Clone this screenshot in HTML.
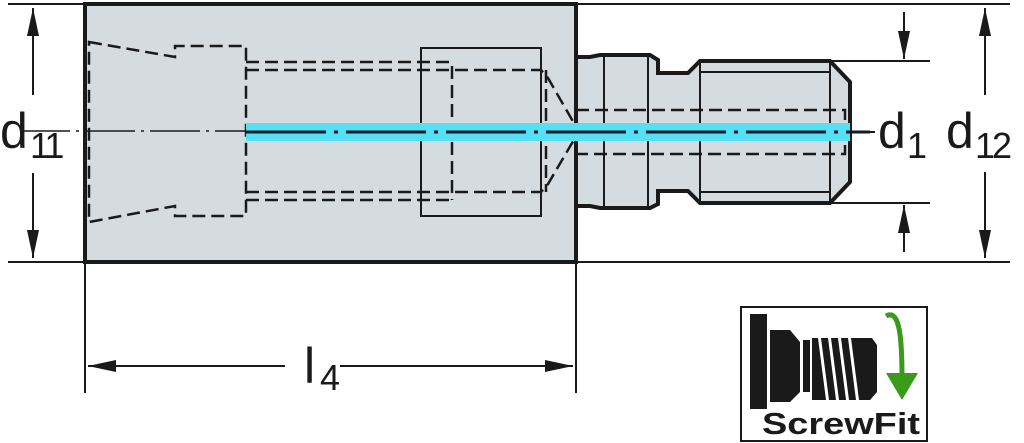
<!DOCTYPE html>
<html><head><style>html,body{margin:0;padding:0;background:#fff;overflow:hidden}svg{display:block}</style></head>
<body>
<svg width="1024" height="443" viewBox="0 0 1024 443" xmlns="http://www.w3.org/2000/svg" font-family="Liberation Sans, DejaVu Sans, sans-serif">
<defs>
<marker id="a" viewBox="0 0 28 12" refX="28" refY="6" markerWidth="28" markerHeight="12" markerUnits="userSpaceOnUse" orient="auto"><path d="M0,0 L28,6 L0,12z" fill="#1a1a1a"/></marker>
</defs>
<g stroke="#1a1a1a" fill="none">
<line x1="8" y1="4" x2="1010" y2="4" stroke-width="2"/>
<line x1="8" y1="262" x2="1010" y2="262" stroke-width="2"/>
<line x1="830" y1="61" x2="930" y2="61" stroke-width="2"/>
<line x1="830" y1="203" x2="930" y2="203" stroke-width="2"/>
<line x1="85" y1="262" x2="85" y2="393" stroke-width="2"/>
<line x1="576" y1="262" x2="576" y2="393" stroke-width="2"/>
</g>
<rect x="85" y="4" width="491" height="258" fill="#d4dcdf" stroke="#1a1a1a" stroke-width="4"/>
<path d="M576,57 L590,57 L600,55 L650,55 L658,60 L658,73 L688,73 L700,61 L830,61 L850,82 L850,182 L830,203 L700,203 L688,191 L658,191 L658,204 L650,208 L600,208 L590,206 L576,206 Z" fill="#d4dcdf" stroke="#1a1a1a" stroke-width="4"/>
<g stroke="#1a1a1a" stroke-width="2" fill="none">
<line x1="604" y1="57" x2="604" y2="206"/>
<line x1="648" y1="57" x2="648" y2="206"/>
<line x1="700" y1="63" x2="700" y2="201"/>
<line x1="830" y1="63" x2="830" y2="201"/>
<line x1="700" y1="72" x2="830" y2="72"/>
<line x1="700" y1="192" x2="830" y2="192"/>
<rect x="421" y="48" width="120" height="168"/>
</g>
<g stroke="#1a1a1a" stroke-width="2.5" fill="none" stroke-dasharray="13,6">
<path d="M89,42 L175,57 L175,46 L246,46 L246,216 L175,216 L175,206 L89,222 Z"/>
<path d="M246,62 L450,62 M246,70 L458,70 L541,70 L548,78 L575,125"/>
<path d="M246,200 L450,200 M246,192 L458,192 L541,192 L548,184 L575,138"/>
<path d="M452,66 L452,200 M546,70 L546,192"/>
<path d="M576,110 L845,110 L845,154 L576,154"/>
</g>
<rect x="246" y="123" width="604" height="18" fill="#55e0f5"/>
<line x1="20" y1="131" x2="246" y2="131" stroke="#1a1a1a" stroke-width="1.5" stroke-dasharray="50,6,3,6"/>
<line x1="246" y1="132" x2="870" y2="132" stroke="#0a1a2a" stroke-width="3" stroke-dasharray="80,8,4,8"/>
<line x1="848" y1="132" x2="875" y2="132" stroke="#1a1a1a" stroke-width="2"/>
<g stroke="#1a1a1a" stroke-width="2">
<line x1="33" y1="95" x2="33" y2="8" marker-end="url(#a)"/>
<line x1="33" y1="173" x2="33" y2="258" marker-end="url(#a)"/>
<line x1="985" y1="95" x2="985" y2="8" marker-end="url(#a)"/>
<line x1="985" y1="172" x2="985" y2="258" marker-end="url(#a)"/>
<line x1="904" y1="12" x2="904" y2="59" marker-end="url(#a)"/>
<line x1="904" y1="252" x2="904" y2="205" marker-end="url(#a)"/>
<line x1="285" y1="366" x2="88" y2="366" marker-end="url(#a)"/>
<line x1="340" y1="366" x2="573" y2="366" marker-end="url(#a)"/>
</g>
<g fill="#1a1a1a" font-size="50">
<text x="0" y="148" textLength="30">d</text>
<text x="30" y="158" font-size="36" letter-spacing="-3">11</text>
<text x="878" y="148">d</text>
<text x="907" y="158" font-size="36">1</text>
<text x="946" y="148">d</text>
<text x="975" y="158" font-size="36" letter-spacing="-3">12</text>
<text x="304" y="383">l</text>
<text x="320" y="390" font-size="36">4</text>
</g>
<rect x="741" y="307" width="186" height="134" fill="#fff" stroke="#1a1a1a" stroke-width="2"/>
<rect x="750" y="314" width="17" height="95" fill="#1a1a1a"/>
<path d="M770,330 L790,330 L800,342 L800,392 L790,402 L770,402 Z" fill="#1a1a1a"/>
<rect x="803" y="340" width="7" height="52" fill="#1a1a1a"/>
<g fill="#1a1a1a">
<path d="M812,338 L818,338 L826,400 L812,400Z"/>
<path d="M821,338 L828,338 L836,400 L829,400Z"/>
<path d="M831,338 L838,338 L846,400 L839,400Z"/>
<path d="M841,338 L848,338 L856,400 L849,400Z"/>
<path d="M851,338 L872,338 L877,345 L877,392 L870,400 L859,400Z"/>
</g>
<path d="M886,316 C900,308 902,340 902,378" stroke="#3a9a1a" stroke-width="5" fill="none"/>
<path d="M886,373 L918,373 L902,400 Z" fill="#3a9a1a"/>
<text x="762" y="434" font-size="31" fill="#1a1a1a" font-weight="bold" textLength="158" lengthAdjust="spacingAndGlyphs">ScrewFit</text>
</svg>
</body></html>
